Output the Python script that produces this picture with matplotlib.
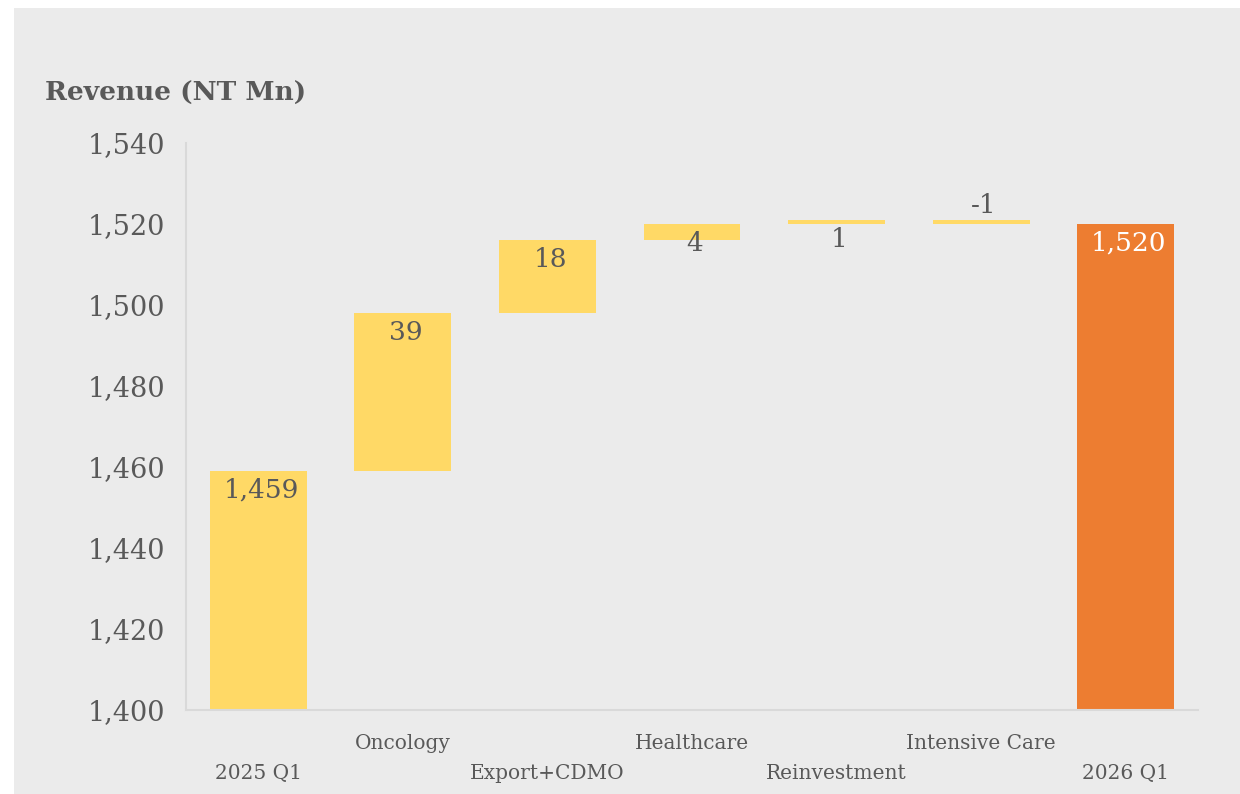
import matplotlib
matplotlib.use("Agg")
import matplotlib.pyplot as plt
from matplotlib.patches import Rectangle

# waterfall data (NT Mn)
categories = ["2025 Q1", "Oncology", "Export+CDMO", "Healthcare",
              "Reinvestment", "Intensive Care", "2026 Q1"]
start_value = 1459
changes = [39, 18, 4, 1, -1]
end_value = 1520
y_ticks = [1400, 1420, 1440, 1460, 1480, 1500, 1520, 1540]

bg = "#ebebeb"
yellow = "#ffd966"
orange = "#ed7d31"
txt = "#595959"
font = "DejaVu Serif"

plt.rcParams["font.family"] = font

fig = plt.figure(figsize=(12.4, 7.94), dpi=100)
fig.patch.set_facecolor("white")
fig.patches.append(Rectangle((14 / 1240, 0), 1, 1 - 8 / 794, transform=fig.transFigure,
                             facecolor=bg, edgecolor="none", zorder=-10))

ax = fig.add_axes([186 / 1240, 1 - 710 / 794, (1198 - 186) / 1240, (710 - 143) / 794])
ax.set_facecolor(bg)

ymin, ymax = y_ticks[0], y_ticks[-1]
width = 0.67

# bars
bottoms, heights, colors, labels = [], [], [], []
bottoms.append(ymin)
heights.append(start_value - ymin)
colors.append(yellow)
labels.append(start_value)
level = start_value
for c in changes:
    bottoms.append(min(level, level + c))
    heights.append(abs(c))
    colors.append(yellow)
    labels.append(c)
    level += c
bottoms.append(ymin)
heights.append(end_value - ymin)
colors.append(orange)
labels.append(end_value)

x = list(range(len(categories)))
ax.bar(x, heights, bottom=bottoms, width=width, color=colors, zorder=2)
for i in range(len(categories)):
    b, h, lab = bottoms[i], heights[i], labels[i]
    top = b + h
    col = "white" if colors[i] == orange else txt
    s = f"{lab:,}"
    if lab < 0:
        ax.annotate(s, (i, b), xytext=(2, 4), textcoords="offset points",
                    ha="center", va="bottom", fontsize=19, color=col)
    else:
        ax.annotate(s, (i, top), xytext=(2, -5), textcoords="offset points",
                    ha="center", va="top", fontsize=19, color=col)

ax.set_xlim(-0.5, len(categories) - 0.5)
ax.set_ylim(ymin, ymax)
ax.set_yticks(y_ticks)
ax.set_yticklabels([f"{v:,}" for v in y_ticks], fontsize=19.5, color=txt)
ax.set_xticks(x)
ax.set_xticklabels([("\n" + c) if i % 2 == 0 else c for i, c in enumerate(categories)],
                   fontsize=14.5, color=txt, linespacing=1.75)
ax.tick_params(axis="both", length=0)
ax.tick_params(axis="y", pad=15)
ax.tick_params(axis="x", pad=17)

for s in ["top", "right"]:
    ax.spines[s].set_visible(False)
for s in ["left", "bottom"]:
    ax.spines[s].set_color("#d9d9d9")
    ax.spines[s].set_linewidth(1.5)

fig.text(45 / 1240, 1 - 93 / 794, "Revenue (NT Mn)", fontsize=19, fontweight="bold",
         color=txt, ha="left", va="center")

fig.savefig("out.png", dpi=100, facecolor=fig.get_facecolor())
